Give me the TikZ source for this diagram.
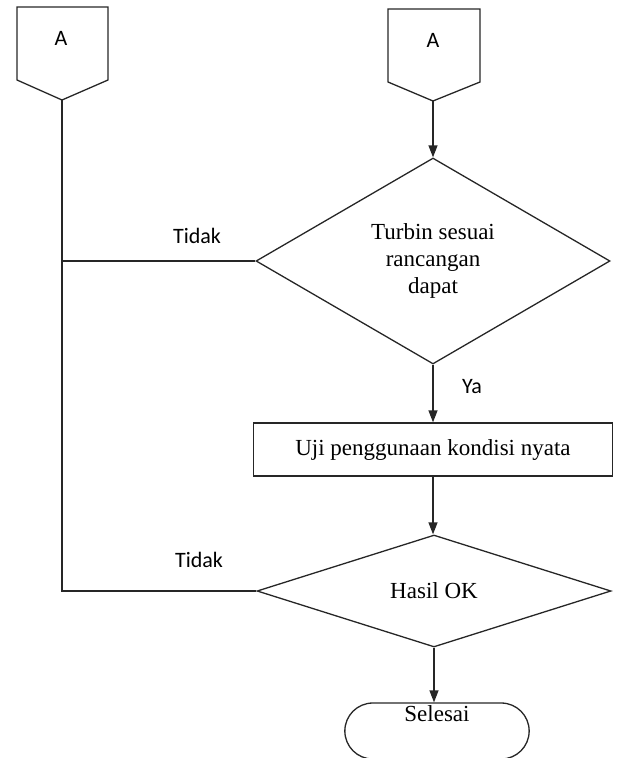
\documentclass[tikz,border=0pt]{standalone}
\usepackage{fontspec}
\setmainfont{Liberation Serif}
\newfontfamily\calibri{Carlito}
\usetikzlibrary{arrows.meta,
                shapes.geometric,
                shapes.misc}

\begin{document}
\begin{tikzpicture}[x=1pt, y=-1pt,
  every node/.style = {font=\fontsize{23}{27}\selectfont},
  line/.style = {draw=black!85, line width=1.3pt},
  arrow/.style = {line, -{Triangle[width=9pt,length=12pt]}},
  decision/.style = {diamond, line, aspect=1.7, inner sep=0pt, align=center},
  process/.style = {rectangle, line, minimum width=359pt, minimum height=53pt},
  terminal/.style = {rounded rectangle, line, minimum width=191pt, minimum height=56pt},
  sans/.style = {font=\calibri\fontsize{22}{26}\selectfont}
  ]
  \useasboundingbox (0,0) rectangle (618,758);
  % off-page connectors
  \draw[line] (17,7) -- (108,7) -- (108,80) -- (62,100) coordinate (offL)
    -- (17,80) -- cycle;
  \draw[line] (388,9) -- (480,9) -- (480,82) -- (433,101) coordinate (offR)
    -- (388,82) -- cycle;
  \node[sans] (aL) at (61,38) {A};
  \node[sans] (aR) at (433,40) {A};
  %
  \node[decision, minimum width=354pt, minimum height=206pt] (q1) at (433,261)
    {Turbin sesuai\\rancangan\\dapat};
  \node[process] (test) at (433,449.5) {Uji penggunaan kondisi nyata};
  \node[decision, minimum width=354pt, minimum height=112pt] (q2) at (434,591)
    {Hasil OK};
  \node[terminal, label={[anchor=north, inner sep=3pt]north:Selesai}] (end)
    at (437,731) {};
  %
  \draw[arrow] (offR) -- (q1.north);
  \draw[arrow] (q1.south) -- (test.north);
  \draw[arrow] (test.south) -- (test.south |- q2.north);
  \draw[arrow] (q2.south) -- (q2.south |- end.north);
  \draw[line] (q1.west) -- (q1.west -| offL);
  \draw[line] (offL) -- (offL |- q2.west) -- (q2.west);
  %
  \node[sans] (no1) at (197,236) {Tidak};
  \node[sans] (no2) at (199,560) {Tidak};
  \node[sans] (yes) at (472,387) {Ya};
\end{tikzpicture}
\end{document}
